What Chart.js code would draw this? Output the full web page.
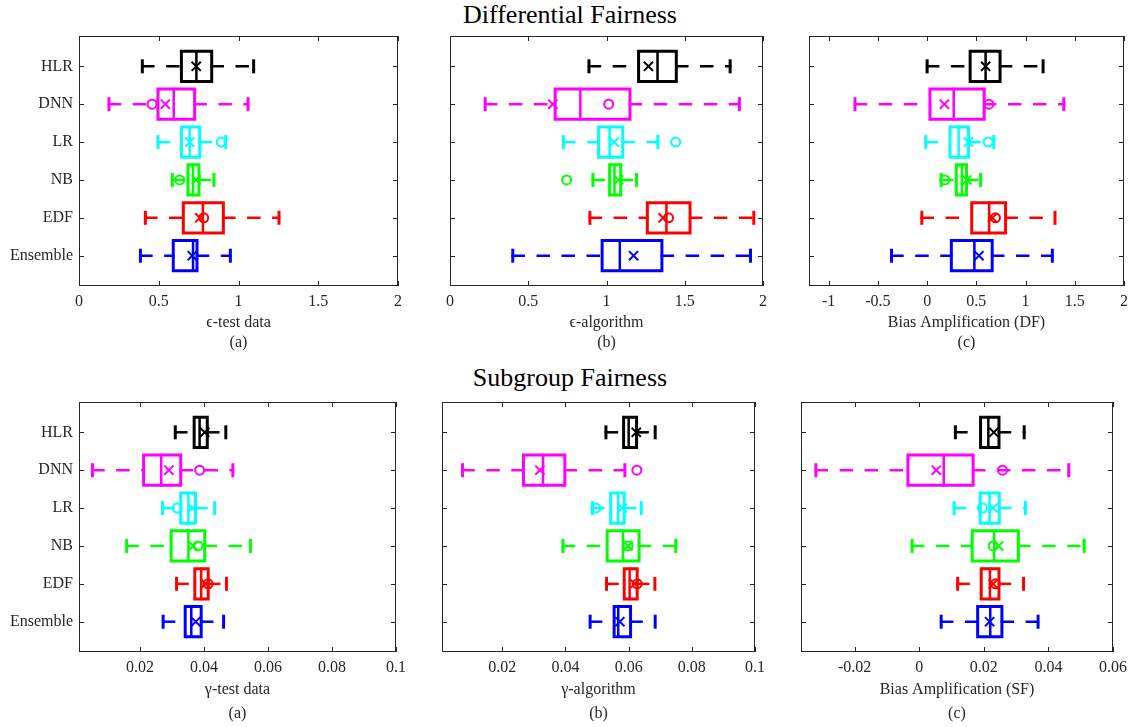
<!DOCTYPE html>
<html>
<head>
<meta charset="utf-8">
<script src="https://cdn.jsdelivr.net/npm/chart.js@4.4.1/dist/chart.umd.min.js"></script>
<style>
  body { margin: 0; background: #fff; }
  #page { position: relative; width: 1134px; height: 727px; overflow: hidden; background: #fff;
          font-family: 'Liberation Serif', 'Times New Roman', serif; }
  .title { position: absolute; left: 3px; width: 1134px; text-align: center; font-size: 26px; line-height: 26px; color: #000; }
  .panel { position: absolute; }
</style>
</head>
<body>
<div id="page">
  <div class="title" style="top:2px">Differential Fairness</div>
  <div class="title" style="top:365px">Subgroup Fairness</div>
  <div class="panel" id="p1"><canvas></canvas></div>
  <div class="panel" id="p2"><canvas></canvas></div>
  <div class="panel" id="p3"><canvas></canvas></div>
  <div class="panel" id="p4"><canvas></canvas></div>
  <div class="panel" id="p5"><canvas></canvas></div>
  <div class="panel" id="p6"><canvas></canvas></div>
</div>
<script>
// Cajas horizontales: bigote (lo..hi), caja (q1..q3), mediana, marca "x" y marca "o"
const CATEGORIES = ['HLR', 'DNN', 'LR', 'NB', 'EDF', 'Ensemble'];
const COLORS = ['#000000', '#ff00ff', '#00ffff', '#00ff00', '#ff0000', '#0000ff'];

// (a) epsilon - test data
const EPS_TEST_LO  = [0.397, 0.188, 0.495, 0.585, 0.416, 0.385];
const EPS_TEST_Q1  = [0.642, 0.495, 0.642, 0.683, 0.654, 0.591];
const EPS_TEST_MED = [0.736, 0.594, 0.694, 0.715, 0.777, 0.715];
const EPS_TEST_Q3  = [0.832, 0.725, 0.757, 0.752, 0.905, 0.740];
const EPS_TEST_HI  = [1.095, 1.060, 0.920, 0.846, 1.254, 0.949];
const EPS_TEST_X   = [0.735, 0.541, 0.694, 0.735, 0.757, 0.710];
const EPS_TEST_O   = [null, 0.458, 0.892, 0.631, 0.782, null];

// (b) epsilon - algorithm
const EPS_ALG_LO  = [0.888, 0.225, 0.724, 0.913, 0.894, 0.401];
const EPS_ALG_Q1  = [1.205, 0.672, 0.949, 1.020, 1.261, 0.972];
const EPS_ALG_MED = [1.326, 0.833, 1.020, 1.051, 1.383, 1.085];
const EPS_ALG_Q3  = [1.446, 1.150, 1.104, 1.091, 1.534, 1.354];
const EPS_ALG_HI  = [1.790, 1.849, 1.328, 1.192, 1.941, 1.920];
const EPS_ALG_X   = [1.268, 0.657, 1.049, 1.077, 1.362, 1.173];
const EPS_ALG_O   = [null, 1.014, 1.442, 0.745, 1.396, null];

// (c) bias amplification DF
const DF_LO  = [0.000, -0.733, -0.014, 0.143, -0.054, -0.362];
const DF_Q1  = [0.437, 0.029, 0.233, 0.296, 0.453, 0.246];
const DF_MED = [0.594, 0.270, 0.320, 0.353, 0.630, 0.480];
const DF_Q3  = [0.741, 0.580, 0.420, 0.400, 0.797, 0.661];
const DF_HI  = [1.178, 1.389, 0.677, 0.544, 1.299, 1.272];
const DF_X   = [0.594, 0.176, 0.420, 0.403, 0.664, 0.527];
const DF_O   = [null, 0.627, 0.620, 0.179, 0.694, null];

// (a) gamma - test data
const GAM_TEST_LO  = [0.0310, 0.0051, 0.0270, 0.0158, 0.0314, 0.0272];
const GAM_TEST_Q1  = [0.0369, 0.0211, 0.0327, 0.0297, 0.0371, 0.0341];
const GAM_TEST_MED = [0.0386, 0.0266, 0.0351, 0.0351, 0.0391, 0.0360];
const GAM_TEST_Q3  = [0.0410, 0.0327, 0.0373, 0.0402, 0.0413, 0.0391];
const GAM_TEST_HI  = [0.0468, 0.0490, 0.0433, 0.0545, 0.0470, 0.0461];
const GAM_TEST_X   = [0.0402, 0.0290, 0.0364, 0.0366, 0.0405, 0.0374];
const GAM_TEST_O   = [null, 0.0386, 0.0316, 0.0381, 0.0413, null];

// (b) gamma - algorithm
const GAM_ALG_LO  = [0.0528, 0.0074, 0.0485, 0.0392, 0.0530, 0.0478];
const GAM_ALG_Q1  = [0.0584, 0.0267, 0.0543, 0.0532, 0.0586, 0.0554];
const GAM_ALG_MED = [0.0600, 0.0329, 0.0567, 0.0582, 0.0603, 0.0567];
const GAM_ALG_Q3  = [0.0625, 0.0398, 0.0586, 0.0633, 0.0627, 0.0606];
const GAM_ALG_HI  = [0.0684, 0.0588, 0.0640, 0.0749, 0.0683, 0.0684];
const GAM_ALG_X   = [0.0624, 0.0319, 0.0580, 0.0598, 0.0619, 0.0572];
const GAM_ALG_O   = [null, 0.0626, 0.0496, 0.0598, 0.0627, null];

// (c) bias amplification SF
const SF_LO  = [0.0112, -0.0320, 0.0108, -0.0022, 0.0119, 0.0068];
const SF_Q1  = [0.0190, -0.0035, 0.0189, 0.0164, 0.0192, 0.0181];
const SF_MED = [0.0214, 0.0076, 0.0218, 0.0232, 0.0219, 0.0220];
const SF_Q3  = [0.0247, 0.0167, 0.0248, 0.0307, 0.0247, 0.0256];
const SF_HI  = [0.0325, 0.0463, 0.0329, 0.0511, 0.0323, 0.0368];
const SF_X   = [0.0231, 0.0053, 0.0229, 0.0246, 0.0229, 0.0218];
const SF_O   = [null, 0.0258, 0.0196, 0.0229, 0.0236, null];

// Etiquetas de los ejes X
const EPS_TICKS = [0, 0.5, 1, 1.5, 2];
const DF_TICKS  = [-1, -0.5, 0, 0.5, 1, 1.5, 2];
const GAM_TICKS = [0.02, 0.04, 0.06, 0.08, 0.1];
const SF_TICKS  = [-0.02, 0, 0.02, 0.04, 0.06];

const AXIS_COLOR = '#262626';
const FONT = 'Liberation Serif';
const BOX_HALF = 0.4;   // media altura de la caja, en unidades de fila
const TICK_LEN = 5;
const PAD_TOP = 8, PAD_RIGHT = 20;

// area de dibujo de cada panel: [left, top, right, bottom] en pixeles de la pagina
const PANELS = [
  { id: 'p1', area: [79, 34, 398, 286],  range: [0, 2],          ticks: EPS_TICKS, yLabels: true,
    title: ['\u03F5-test data', '(a)'], lh: '20px', xH: 67,
    stats: [EPS_TEST_LO, EPS_TEST_Q1, EPS_TEST_MED, EPS_TEST_Q3, EPS_TEST_HI, EPS_TEST_X, EPS_TEST_O] },
  { id: 'p2', area: [446, 34, 763, 286], range: [0, 2],          ticks: EPS_TICKS, yLabels: false,
    title: ['\u03F5-algorithm', '(b)'], lh: '20px', xH: 67,
    stats: [EPS_ALG_LO, EPS_ALG_Q1, EPS_ALG_MED, EPS_ALG_Q3, EPS_ALG_HI, EPS_ALG_X, EPS_ALG_O] },
  { id: 'p3', area: [805, 34, 1124, 286], range: [-1.2, 2],      ticks: DF_TICKS,  yLabels: false,
    title: ['Bias Amplification (DF)', '(c)'], lh: '20px', xH: 67,
    stats: [DF_LO, DF_Q1, DF_MED, DF_Q3, DF_HI, DF_X, DF_O] },
  { id: 'p4', area: [79, 400, 396, 652], range: [0.0009, 0.1],   ticks: GAM_TICKS, yLabels: true,
    title: ['\u03B3-test data', '(a)'], lh: '24px', xH: 74,
    stats: [GAM_TEST_LO, GAM_TEST_Q1, GAM_TEST_MED, GAM_TEST_Q3, GAM_TEST_HI, GAM_TEST_X, GAM_TEST_O] },
  { id: 'p5', area: [438, 400, 755, 652], range: [0.0009, 0.1],  ticks: GAM_TICKS, yLabels: false,
    title: ['\u03B3-algorithm', '(b)'], lh: '24px', xH: 74,
    stats: [GAM_ALG_LO, GAM_ALG_Q1, GAM_ALG_MED, GAM_ALG_Q3, GAM_ALG_HI, GAM_ALG_X, GAM_ALG_O] },
  { id: 'p6', area: [797, 400, 1113, 652], range: [-0.0366, 0.06], ticks: SF_TICKS, yLabels: false,
    title: ['Bias Amplification (SF)', '(c)'], lh: '24px', xH: 74,
    stats: [SF_LO, SF_Q1, SF_MED, SF_Q3, SF_HI, SF_X, SF_O] }
];

// marco completo con marcas hacia dentro en los cuatro lados (estilo MATLAB)
const framePlugin = {
  id: 'frame',
  afterDraw(chart) {
    const { ctx, chartArea: a, scales: { x, y } } = chart;
    ctx.save();
    ctx.strokeStyle = AXIS_COLOR;
    ctx.lineWidth = 1;
    ctx.strokeRect(a.left + 0.5, a.top + 0.5, a.right - a.left - 1, a.bottom - a.top - 1);
    ctx.beginPath();
    x.ticks.forEach(t => {
      const px = Math.round(x.getPixelForValue(t.value)) + 0.5;
      ctx.moveTo(px, a.bottom); ctx.lineTo(px, a.bottom - TICK_LEN);
      ctx.moveTo(px, a.top);    ctx.lineTo(px, a.top + TICK_LEN);
    });
    y.ticks.forEach(t => {
      const py = Math.round(y.getPixelForValue(t.value)) + 0.5;
      ctx.moveTo(a.left, py);  ctx.lineTo(a.left + TICK_LEN, py);
      ctx.moveTo(a.right, py); ctx.lineTo(a.right - TICK_LEN, py);
    });
    ctx.stroke();
    ctx.restore();
  }
};

function lineSet(points, color, width, dash) {
  return {
    data: points, showLine: true, pointRadius: 0, borderColor: color,
    borderWidth: width, borderDash: dash || [], borderCapStyle: 'square', fill: false
  };
}

function buildDatasets([lo, q1, med, q3, hi, mk, ol]) {
  const sets = [];
  CATEGORIES.forEach((_, i) => {
    const y = i + 1, c = COLORS[i];
    const t = y - BOX_HALF, b = y + BOX_HALF;
    // bigotes punteados
    sets.push(lineSet([{ x: lo[i], y }, { x: q1[i], y }], c, 2.5, [11, 14]));
    sets.push(lineSet([{ x: q3[i], y }, { x: hi[i], y }], c, 2.5, [11, 14]));
    // caja y mediana
    sets.push(lineSet([{ x: q1[i], y: t }, { x: q3[i], y: t }, { x: q3[i], y: b },
                       { x: q1[i], y: b }, { x: q1[i], y: t }], c, 3));
    sets.push(lineSet([{ x: med[i], y: t }, { x: med[i], y: b }], c, 2.5));
    // topes de los bigotes
    sets.push({ data: [{ x: lo[i], y }, { x: hi[i], y }], pointStyle: 'line', pointRotation: 90,
                pointRadius: 7, pointBorderWidth: 3, pointBorderColor: c, borderColor: c });
    // marca x
    sets.push({ data: [{ x: mk[i], y }], pointStyle: 'crossRot', pointRadius: 6.5,
                pointBorderWidth: 2, pointBorderColor: c, borderColor: c });
    // marca o
    if (ol[i] !== null) {
      sets.push({ data: [{ x: ol[i], y }], pointStyle: 'circle', pointRadius: 4.5,
                  pointBorderWidth: 2, pointBorderColor: c, pointBackgroundColor: 'rgba(0,0,0,0)' });
    }
  });
  return sets;
}

const fmtTick = v => String(+Number(v).toFixed(4));

PANELS.forEach(p => {
  const [L, T, R, B] = p.area;
  const yW = p.yLabels ? L : 6;
  const box = document.getElementById(p.id);
  const w = yW + (R - L) + PAD_RIGHT;
  const h = PAD_TOP + (B - T) + p.xH;
  box.style.left = (L - yW) + 'px';
  box.style.top = (T - PAD_TOP) + 'px';
  const cv = box.querySelector('canvas');
  cv.width = w; cv.height = h;
  cv.style.width = w + 'px'; cv.style.height = h + 'px';

  new Chart(cv, {
    type: 'scatter',
    data: { datasets: buildDatasets(p.stats) },
    options: {
      responsive: false,
      devicePixelRatio: 1,
      animation: false,
      events: [],
      layout: { padding: { top: PAD_TOP, right: PAD_RIGHT, left: 0, bottom: 0 } },
      plugins: { legend: { display: false }, tooltip: { enabled: false } },
      scales: {
        x: {
          type: 'linear', min: p.range[0], max: p.range[1],
          afterBuildTicks: s => { s.ticks = p.ticks.map(v => ({ value: v })); },
          afterFit: s => { s.height = p.xH; s.paddingLeft = 0; s.paddingRight = 0; },
          grid: { display: false, drawTicks: false, tickLength: 0 },
          border: { display: false },
          ticks: { autoSkip: false, maxRotation: 0, padding: 6, color: AXIS_COLOR,
                   font: { family: FONT, size: 16 }, callback: fmtTick },
          title: { display: true, text: p.title, color: AXIS_COLOR, padding: 0,
                   font: { family: FONT, size: 16, lineHeight: p.lh } }
        },
        y: {
          type: 'linear', reverse: true, min: 0.2, max: 6.8,
          afterBuildTicks: s => { s.ticks = CATEGORIES.map((_, i) => ({ value: i + 1 })); },
          afterFit: s => { s.width = yW; s.paddingTop = 0; s.paddingBottom = 0; },
          grid: { display: false, drawTicks: false, tickLength: 0 },
          border: { display: false },
          ticks: { display: p.yLabels, padding: 6, color: AXIS_COLOR,
                   font: { family: FONT, size: 16 },
                   callback: v => CATEGORIES[Math.round(v) - 1] }
        }
      }
    },
    plugins: [framePlugin]
  });
});
</script>
</body>
</html>
